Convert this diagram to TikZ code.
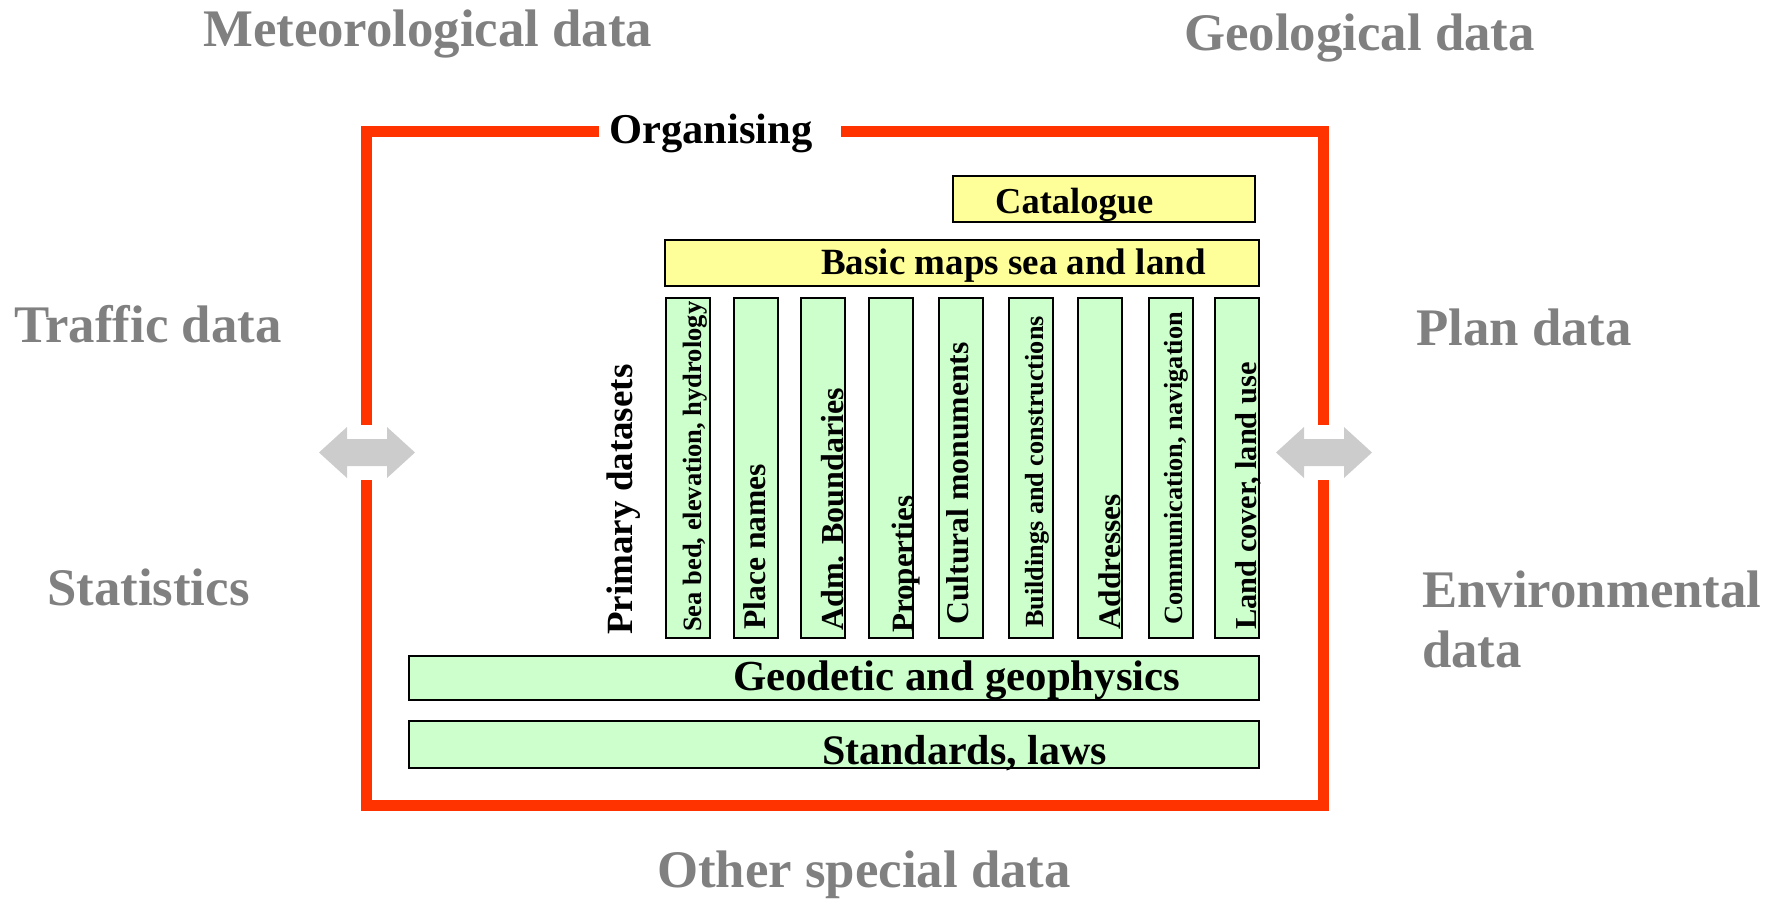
\documentclass[tikz,border=0pt]{standalone}
\usepackage{fontspec}
\setmainfont{Liberation Serif}
\definecolor{framered}{HTML}{FF3300}
\definecolor{boxyellow}{HTML}{FFFF99}
\definecolor{boxgreen}{HTML}{CCFFCC}
\definecolor{txtgray}{HTML}{808080}
\definecolor{arrowgray}{HTML}{CCCCCC}
\newcommand{\fsz}[1]{\fontsize{#1}{#1}\selectfont\bfseries}
\tikzset{
  graylbl/.style={text=txtgray, font=\fsz{52.8}, inner sep=0pt, anchor=base west},
  frameline/.style={draw=framered, line width=11pt, line cap=butt, line join=miter},
  ybox/.style={draw=black, line width=2.5pt, fill=boxyellow, inner sep=0pt, outer sep=0pt, anchor=north west},
  gbox/.style={draw=black, line width=2.5pt, fill=boxgreen, inner sep=0pt, outer sep=0pt, anchor=north west},
  colbox/.style={gbox, minimum width=44pt, minimum height=340pt},
  boxtxt/.style={inner sep=0pt, anchor=base west},
  coltxt/.style={rotate=90, inner sep=0pt, anchor=base west},
  dblarrow/.style={fill=arrowgray, draw=none}
}
\begin{document}
\begin{tikzpicture}[x=1pt,y=-1pt]
\useasboundingbox (0,0) rectangle (1783,899);

% outer gray labels
\node[graylbl] (met) at (203,47) {Meteorological data};
\node[graylbl] (geo) at (1184,51) {Geological data};
\node[graylbl] (traffic) at (14,342) {Traffic data};
\node[graylbl] (stat) at (47,605) {Statistics};
\node[graylbl] (plan) at (1416,345) {Plan data};
\node[graylbl] (env1) at (1422,607) {Environmental};
\node[graylbl] (env2) at (1422,667) {data};
\node[graylbl] (other) at (657,887) {Other special data};

% red frame
\draw[frameline] (599,131) -- (366,131) -- (366,425);
\draw[frameline] (366,480) -- (366,805) -- (1323,805) -- (1323,480);
\draw[frameline] (1323,425) -- (1323,131) -- (841,131);
\node[boxtxt, font=\fsz{42.5}] (org) at (609,143) {Organising};

% double arrows
\fill[dblarrow] (319,452.5) -- (347,427) -- (347,439) -- (387,439) -- (387,427) -- (415,452.5)
  -- (387,478) -- (387,466) -- (347,466) -- (347,478) -- cycle;
\fill[dblarrow] (1276,452.5) -- (1304,427) -- (1304,439) -- (1344,439) -- (1344,427) -- (1372,452.5)
  -- (1344,478) -- (1344,466) -- (1304,466) -- (1304,478) -- cycle;

% yellow boxes
\node[ybox, minimum width=302pt, minimum height=46pt] (cat) at (953,176) {};
\node[boxtxt, font=\fsz{36.5}] (cattxt) at (995,213) {Catalogue};
\node[ybox, minimum width=594pt, minimum height=46pt] (basic) at (665,240) {};
\node[boxtxt, font=\fsz{37}] (basictxt) at (821,274) {Basic maps sea and land};

% primary datasets columns
\node[coltxt, font=\fsz{37}] (prim) at (632,635) {Primary datasets};
\node[colbox] (c1) at (666,298) {};
\node[colbox] (c2) at (734,298) {};
\node[colbox] (c3) at (801,298) {};
\node[colbox] (c4) at (869,298) {};
\node[colbox] (c5) at (939,298) {};
\node[colbox] (c6) at (1009,298) {};
\node[colbox] (c7) at (1078,298) {};
\node[colbox] (c8) at (1149,298) {};
\node[colbox] (c9) at (1215,298) {};
\node[coltxt, font=\fsz{26.5}] (c1t) at (701,632) {Sea bed, elevation, hydrology};
\node[coltxt, font=\fsz{31.6}] (c2t) at (765,630) {Place names};
\node[coltxt, font=\fsz{32}] (c3t) at (843,631) {Adm. Boundaries};
\node[coltxt, font=\fsz{31}] (c4t) at (913,633) {Properties};
\node[coltxt, font=\fsz{31.7}] (c5t) at (968,625) {Cultural monuments};
\node[coltxt, font=\fsz{26.2}] (c6t) at (1043,628) {Buildings and constructions};
\node[coltxt, font=\fsz{31.4}] (c7t) at (1120,630) {Addresses};
\node[coltxt, font=\fsz{26.3}] (c8t) at (1182,625) {Communication, navigation};
\node[coltxt, font=\fsz{30.4}] (c9t) at (1256,630) {Land cover, land use};

% green bottom boxes
\node[gbox, minimum width=850pt, minimum height=44pt] (geod) at (409,656) {};
\node[boxtxt, font=\fsz{42.8}] (geodtxt) at (733,690) {Geodetic and geophysics};
\node[gbox, minimum width=850pt, minimum height=47pt] (std) at (409,721) {};
\node[boxtxt, font=\fsz{42}] (stdtxt) at (822,764) {Standards, laws};
\end{tikzpicture}
\end{document}
